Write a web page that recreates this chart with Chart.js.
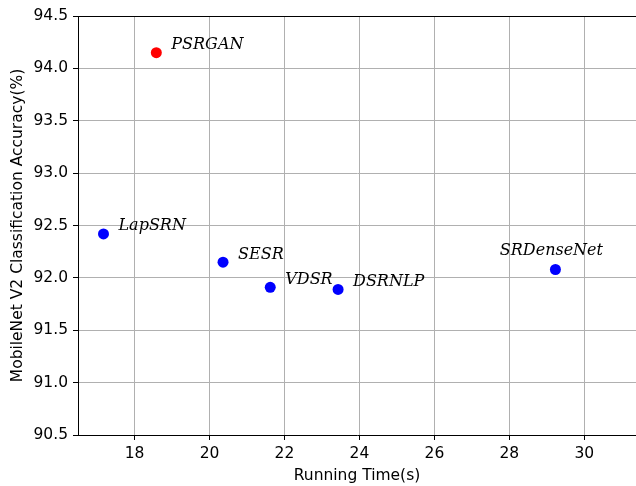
<!DOCTYPE html>
<html>
<head>
<meta charset="utf-8">
<script src="https://cdn.jsdelivr.net/npm/chart.js@4.4.1/dist/chart.umd.min.js"></script>
<style>
  html, body { margin: 0; padding: 0; background: #fff; overflow: hidden; }
  #wrap { width: 636px; height: 486px; }
</style>
</head>
<body>
<div id="wrap"><canvas id="chart" width="636" height="486"></canvas></div>
<script>
// method names, running time (s) and accuracy (%)
const methods = ['PSRGAN', 'LapSRN', 'SESR', 'VDSR', 'DSRNLP', 'SRDenseNet'];
const runTimes = [18.58, 17.17, 20.36, 21.62, 23.43, 29.23];
const accuracies = [94.15, 92.42, 92.15, 91.91, 91.89, 92.08];
const pointColors = ['#ff0000', '#0000ff', '#0000ff', '#0000ff', '#0000ff', '#0000ff'];

const xTicks = [18, 20, 22, 24, 26, 28, 30];
const yTicks = [90.5, 91.0, 91.5, 92.0, 92.5, 93.0, 93.5, 94.0, 94.5];

const tickFont = { family: 'DejaVu Sans', size: 15.5 };

// text label next to each dot (pixel offsets from the dot)
const pointLabels = {
    id: 'pointLabels',
    afterDatasetsDraw(chart) {
        const { ctx, scales } = chart;
        ctx.save();
        ctx.font = 'italic 16px "DejaVu Serif"';
        ctx.fillStyle = '#000';
        ctx.textBaseline = 'alphabetic';
        methods.forEach((name, i) => {
            const px = scales.x.getPixelForValue(runTimes[i]);
            const py = scales.y.getPixelForValue(accuracies[i]);
            if (name === 'SRDenseNet') {
                ctx.textAlign = 'center';
                ctx.fillText(name, px - 4, py - 14);
            } else {
                ctx.textAlign = 'left';
                ctx.fillText(name, px + 15, py - 3.5);
            }
        });
        ctx.restore();
    }
};

// top spine (the right one falls outside the picture)
const frame = {
    id: 'frame',
    afterDraw(chart) {
        const { ctx, chartArea: a } = chart;
        ctx.save();
        ctx.strokeStyle = '#000';
        ctx.lineWidth = 1;
        ctx.beginPath();
        ctx.moveTo(a.left, a.top + 0.5);
        ctx.lineTo(a.right, a.top + 0.5);
        ctx.stroke();
        ctx.restore();
    }
};

new Chart(document.getElementById('chart'), {
    type: 'scatter',
    data: {
        datasets: [{
            data: runTimes.map((t, i) => ({ x: t, y: accuracies[i] })),
            backgroundColor: pointColors,
            borderColor: pointColors,
            pointRadius: 5.5,
            pointHoverRadius: 5.5,
            borderWidth: 0
        }]
    },
    options: {
        responsive: false,
        animation: false,
        events: [],
        // no auto padding, otherwise the dot radius eats the right edge
        layout: { autoPadding: false, padding: { top: 16, right: 0, left: 0, bottom: 0 } },
        plugins: {
            legend: { display: false },
            tooltip: { enabled: false }
        },
        scales: {
            x: {
                type: 'linear',
                min: 16.49,
                max: 31.38,
                afterBuildTicks: s => { s.ticks = xTicks.map(v => ({ value: v })); },
                afterFit: s => { s.height = 51; s.paddingLeft = 0; s.paddingRight = 0; },
                ticks: {
                    color: '#000',
                    font: tickFont,
                    padding: 5,
                    maxRotation: 0,
                    callback: v => String(v)
                },
                grid: {
                    color: '#b0b0b0',
                    lineWidth: 1,
                    tickLength: 5,
                    tickColor: '#000'
                },
                border: { color: '#000', width: 1 },
                title: {
                    display: true,
                    text: 'Running Time(s)',
                    color: '#000',
                    font: tickFont,
                    padding: { top: 0, bottom: 1 }
                }
            },
            y: {
                type: 'linear',
                min: 90.5,
                max: 94.5,
                afterBuildTicks: s => { s.ticks = yTicks.map(v => ({ value: v })); },
                afterFit: s => { s.width = 78; },
                ticks: {
                    color: '#000',
                    font: tickFont,
                    padding: 5,
                    callback: v => Number(v).toFixed(1)
                },
                grid: {
                    color: '#b0b0b0',
                    lineWidth: 1,
                    tickLength: 5,
                    tickColor: '#000'
                },
                border: { color: '#000', width: 1 },
                title: {
                    display: true,
                    text: 'MobileNet V2 Classification Accuracy(%)',
                    color: '#000',
                    font: tickFont,
                    padding: { top: 9, bottom: 0 }
                }
            }
        }
    },
    plugins: [pointLabels, frame]
});
</script>
</body>
</html>
